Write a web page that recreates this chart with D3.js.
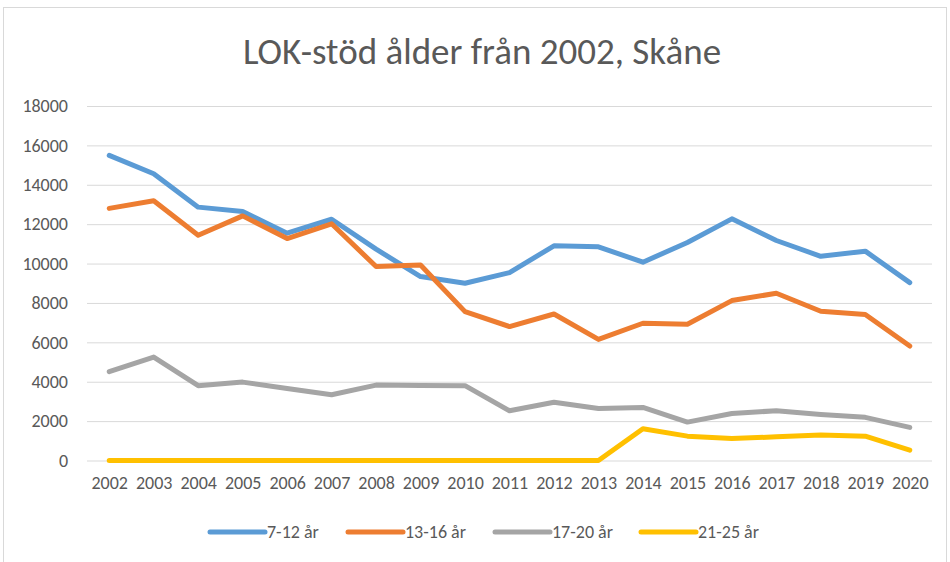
<!DOCTYPE html>
<html><head><meta charset="utf-8">
<script src="https://cdn.jsdelivr.net/npm/d3@7"></script>
<style>
body{margin:0;background:#fff;}
text{font-family:Carlito,Calibri,Lato,sans-serif;fill:#595959;}
</style></head>
<body><svg id="c" width="950" height="562"></svg>
<script>
const years = [2002,2003,2004,2005,2006,2007,2008,2009,2010,2011,2012,2013,2014,2015,2016,2017,2018,2019,2020];
const seriesNames = ["7-12 år","13-16 år","17-20 år","21-25 år"];
const age7_12 = [15490,14560,12865,12645,11540,12250,10730,9340,9000,9540,10900,10850,10070,11070,12270,11170,10370,10630,9030];
const age13_16 = [12800,13190,11440,12420,11270,12020,9850,9930,7560,6800,7440,6150,6970,6915,8120,8490,7580,7410,5810];
const age17_20 = [4510,5250,3800,3980,3660,3340,3830,3810,3800,2525,2960,2640,2695,1950,2390,2525,2340,2190,1680];
const age21_25 = [0,0,0,0,0,0,0,0,0,0,0,0,1610,1237,1118,1200,1290,1237,525];
const yTicks = [0,2000,4000,6000,8000,10000,12000,14000,16000,18000];
const colors = ["#5B9BD5","#ED7D31","#A5A5A5","#FFC000"];
const allSeries = [age7_12, age13_16, age17_20, age21_25];

const svg = d3.select("#c");
svg.append("rect").attr("x",3.5).attr("y",7.5).attr("width",943).attr("height",560)
  .attr("fill","none").attr("stroke","#D9D9D9").attr("stroke-width",1);

svg.append("text").attr("x",482).attr("y",64).attr("text-anchor","middle")
  .style("font-size","37px").text("LOK-stöd ålder från 2002, Skåne");

const x = d3.scalePoint().domain(years).range([87,932]).padding(0.5);
const y = d3.scaleLinear().domain([0,18000]).range([460.5,106]);

const yAxis = svg.append("g").attr("transform","translate(87,0)")
  .call(d3.axisLeft(y).tickValues(yTicks).tickSize(-845).tickPadding(19).tickFormat(d3.format("d")));
yAxis.select(".domain").remove();
yAxis.selectAll("line").attr("stroke","#D9D9D9").attr("stroke-width",1);
yAxis.selectAll("text").style("font-size","18px").attr("fill","#595959");

const xAxis = svg.append("g").attr("transform","translate(0,460.5)")
  .call(d3.axisBottom(x).tickSize(0).tickPadding(16).tickFormat(d3.format("d")));
xAxis.select(".domain").remove();
xAxis.selectAll("text").style("font-size","18px").attr("fill","#595959");

const line = d3.line().x((d,i)=>x(years[i])).y(d=>y(d));
allSeries.forEach((s,i)=>{
  svg.append("path").datum(s).attr("d",line).attr("fill","none")
    .attr("stroke",colors[i]).attr("stroke-width",5).attr("stroke-linejoin","round").attr("stroke-linecap","round");
});

const legX = [210,348,495,641];
const leg = svg.append("g");
seriesNames.forEach((n,i)=>{
  leg.append("line").attr("x1",legX[i]).attr("x2",legX[i]+55).attr("y1",532).attr("y2",532)
    .attr("stroke",colors[i]).attr("stroke-width",5).attr("stroke-linecap","round");
  leg.append("text").attr("x",legX[i]+57).attr("y",538).style("font-size","18px").text(n);
});
</script></body></html>
